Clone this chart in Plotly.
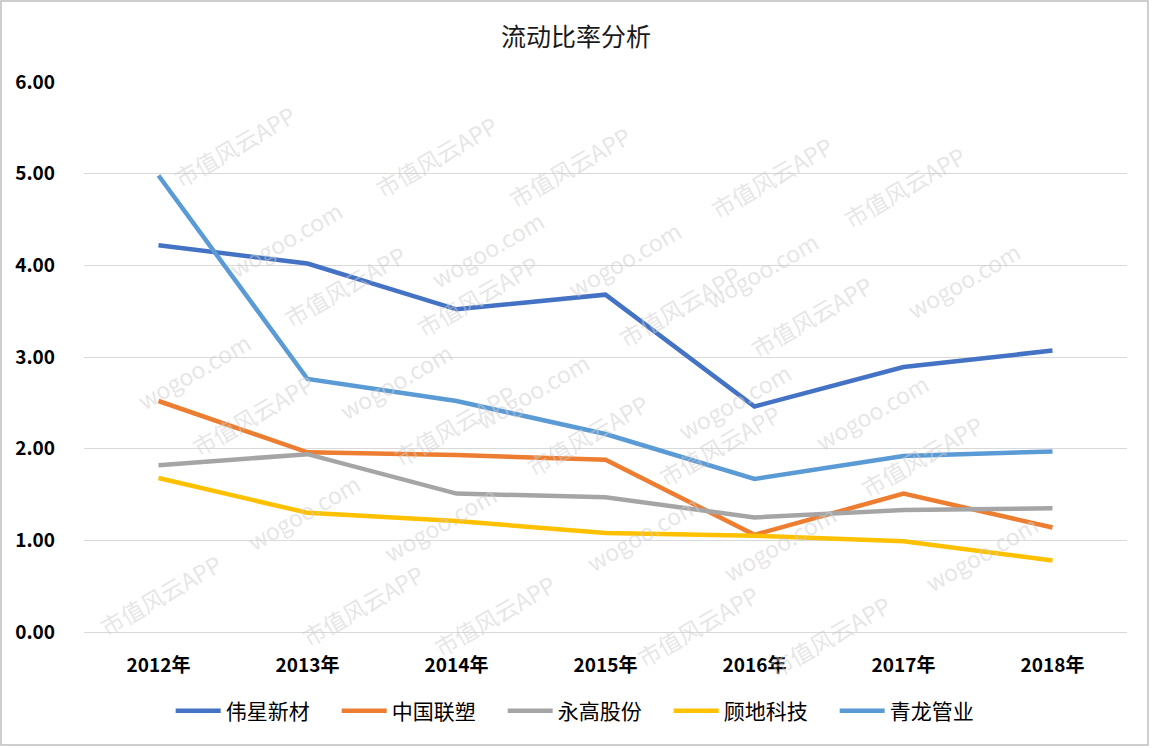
import plotly.graph_objects as go
import math

years = ["2012年", "2013年", "2014年", "2015年", "2016年", "2017年", "2018年"]
weixing = [4.22, 4.02, 3.52, 3.68, 2.46, 2.89, 3.07]
liansu = [2.52, 1.96, 1.93, 1.88, 1.06, 1.51, 1.14]
yonggao = [1.82, 1.94, 1.51, 1.47, 1.25, 1.33, 1.35]
gudi = [1.68, 1.30, 1.21, 1.08, 1.05, 0.99, 0.78]
qinglong = [4.98, 2.76, 2.52, 2.16, 1.67, 1.92, 1.97]

series_names = ["伟星新材", "中国联塑", "永高股份", "顾地科技", "青龙管业"]
series_values = [weixing, liansu, yonggao, gudi, qinglong]
colors = ["#4472C4", "#ED7D31", "#A5A5A5", "#FFC000", "#5B9BD5"]

FONT = "Noto Sans CJK SC"

fig = go.Figure()
for name, vals, c in zip(series_names, series_values, colors):
    fig.add_trace(go.Scatter(x=years, y=vals, name=name, mode="lines",
                             line=dict(color=c, width=4.5)))

# watermark (sparse tiled, kept inside the canvas)
W, H = 1152, 748
L, R, T, B = 84, 25, 82, 116
pw, ph = W - L - R, H - T - B
ang = math.radians(30)
dx, dy = math.cos(ang), -math.sin(ang)
px, py = math.sin(ang), math.cos(ang)
texts = ["市值风云APP", "wogoo.com"]
for row in range(-12, 14):
    for col in range(-10, 12):
        cx = 165 + col * 170 * dx + row * 110 * px
        cy = 95 + col * 170 * dy + row * 110 * py
        if 80 < cx < W - 80 and 50 < cy < H - 50:
            t = texts[(col + row) % 2]
            fig.add_annotation(x=(cx - L) / pw, y=(H - B - cy) / ph, xref="paper", yref="paper",
                               text=t, showarrow=False, textangle=-30,
                               font=dict(family=FONT, size=23, color="rgba(205,205,205,0.5)"))

# chart border
fig.add_shape(type="rect", xref="paper", yref="paper",
              x0=(1 - L) / pw, x1=(W - 4 - L) / pw, y0=(H - B - (H - 3)) / ph, y1=(H - B - 1) / ph,
              line=dict(color="#bfbfbf", width=1.5), layer="below")

fig.update_layout(
    width=W, height=H,
    margin=dict(l=L, r=R, t=T, b=B),
    paper_bgcolor="white", plot_bgcolor="white",
    title=dict(text="流动比率分析", x=0.5, xanchor="center", y=1 - 37 / H, yanchor="middle",
               font=dict(family=FONT, size=25, color="#1a1a1a")),
    font=dict(family=FONT, color="#000000"),
    xaxis=dict(type="category", range=[-0.5, 6.5], showgrid=False, showline=False,
               ticks="", tickfont=dict(family=FONT, size=19, color="#000000", weight="bold"),
               ticklabelstandoff=20),
    yaxis=dict(range=[0, 6], dtick=1, tickformat=".2f", showgrid=True, gridcolor="#d9d9d9",
               gridwidth=1, zeroline=True, zerolinecolor="#d9d9d9", zerolinewidth=1,
               showline=False, ticks="", tickfont=dict(family=FONT, size=19, color="#000000", weight="bold"),
               ticklabelstandoff=28),
    legend=dict(orientation="h", x=0.481, xanchor="center", y=(632 - 711) / ph, yanchor="middle",
                font=dict(family=FONT, size=21, color="#000000"), itemwidth=45,
                entrywidth=106, entrywidthmode="pixels", bgcolor="rgba(0,0,0,0)"),
    showlegend=True,
)

fig.write_html("out.html")
